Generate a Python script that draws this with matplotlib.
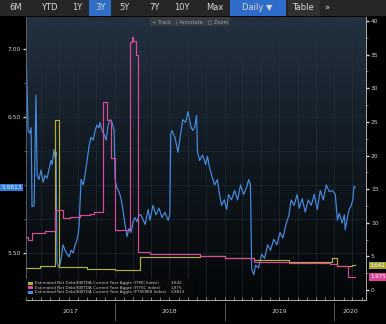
import numpy as np
import pandas as pd
import matplotlib
matplotlib.use("Agg")
import matplotlib.pyplot as plt
import matplotlib.dates as mdates
from matplotlib.colors import LinearSegmentedColormap
from matplotlib.patches import Rectangle
from matplotlib.transforms import blended_transform_factory

# FTSEMIB Index (left axis)
blue_dates = [
    "2017-03-12", "2017-03-19", "2017-03-25", "2017-03-29", "2017-04-01", "2017-04-08",
    "2017-04-14", "2017-04-18", "2017-04-24", "2017-05-01", "2017-05-08", "2017-05-14",
    "2017-05-21", "2017-05-28", "2017-06-03", "2017-06-07", "2017-06-13", "2017-06-17",
    "2017-06-20", "2017-06-23", "2017-06-30", "2017-07-07", "2017-07-13", "2017-07-20",
    "2017-07-27", "2017-08-02", "2017-08-09", "2017-08-16", "2017-08-22", "2017-08-29",
    "2017-09-04", "2017-09-08", "2017-09-11", "2017-09-18", "2017-09-24", "2017-10-01",
    "2017-10-08", "2017-10-14", "2017-10-21", "2017-10-28", "2017-11-03", "2017-11-10",
    "2017-11-13", "2017-11-20", "2017-11-27", "2017-12-03", "2017-12-10", "2017-12-17",
    "2017-12-23", "2017-12-30", "2018-01-02", "2018-01-08", "2018-01-15", "2018-01-22",
    "2018-01-28", "2018-02-04", "2018-02-11", "2018-02-17", "2018-02-24", "2018-03-03",
    "2018-03-09", "2018-03-16", "2018-03-23", "2018-03-29", "2018-04-12", "2018-04-22",
    "2018-04-28", "2018-05-08", "2018-05-18", "2018-05-28", "2018-06-07", "2018-06-17",
    "2018-06-27", "2018-07-03", "2018-07-06", "2018-07-10", "2018-07-20", "2018-07-30",
    "2018-08-05", "2018-08-15", "2018-08-25", "2018-09-01", "2018-09-11", "2018-09-17",
    "2018-09-24", "2018-09-30", "2018-10-03", "2018-10-10", "2018-10-20", "2018-10-30",
    "2018-11-05", "2018-11-12", "2018-11-19", "2018-11-29", "2018-12-08", "2018-12-15",
    "2018-12-22", "2018-12-31", "2019-01-08", "2019-01-14", "2019-01-24", "2019-02-03",
    "2019-02-13", "2019-02-23", "2019-03-05", "2019-03-15", "2019-03-22", "2019-03-28",
    "2019-04-01", "2019-04-08", "2019-04-14", "2019-04-24", "2019-05-04", "2019-05-14",
    "2019-05-24", "2019-06-03", "2019-06-13", "2019-06-24", "2019-07-04", "2019-07-14",
    "2019-07-24", "2019-08-03", "2019-08-10", "2019-08-20", "2019-08-30", "2019-09-06",
    "2019-09-16", "2019-09-26", "2019-10-06", "2019-10-16", "2019-10-26", "2019-11-05",
    "2019-11-15", "2019-11-25", "2019-12-05", "2019-12-15", "2019-12-25", "2020-01-04",
    "2020-01-11", "2020-01-17", "2020-01-27", "2020-02-03", "2020-02-06", "2020-02-13",
    "2020-02-19", "2020-02-26", "2020-03-02", "2020-03-06", "2020-03-10",
]
blue_vals = [
    7.01, 6.40, 6.38, 6.42, 5.84, 5.85,
    6.66, 6.07, 6.04, 6.11, 6.02, 6.07,
    6.05, 6.12, 6.18, 6.15, 6.26, 6.20,
    6.24, 5.43, 5.39, 5.46, 5.56, 5.52,
    5.49, 5.47, 5.52, 5.50, 5.56, 5.60,
    5.68, 5.89, 6.04, 6.00, 6.07, 6.18,
    6.29, 6.35, 6.33, 6.40, 6.44, 6.42,
    6.46, 6.40, 6.37, 6.33, 6.44, 6.48,
    6.46, 6.40, 6.04, 5.98, 5.95, 5.90,
    5.82, 5.71, 5.62, 5.68, 5.65, 5.73,
    5.76, 5.73, 5.78, 5.78, 5.71, 5.82,
    5.74, 5.85, 5.78, 5.83, 5.76, 5.80,
    5.74, 5.78, 6.37, 6.40, 6.35, 6.24,
    6.33, 6.48, 6.46, 6.54, 6.43, 6.40,
    6.43, 6.51, 6.24, 6.18, 6.22, 6.15,
    6.21, 6.13, 6.07, 6.00, 6.04, 5.93,
    5.85, 5.89, 5.82, 5.93, 5.89, 5.96,
    5.89, 6.00, 5.93, 5.98, 6.04, 6.00,
    5.38, 5.34, 5.41, 5.39, 5.49, 5.46,
    5.56, 5.52, 5.60, 5.56, 5.65, 5.61,
    5.71, 5.78, 5.89, 5.85, 5.93, 5.83,
    5.90, 5.80, 5.89, 5.85, 5.93, 5.82,
    5.96, 5.89, 6.00, 5.95, 5.96, 5.93,
    5.74, 5.79, 5.72, 5.78, 5.67, 5.76,
    5.82, 5.85, 5.89, 5.99, 5.9813,
]

# FITSC Index (right axis, step)
pink_dates = [
    "2017-03-12", "2017-03-17", "2017-04-01", "2017-05-14", "2017-06-17", "2017-07-13",
    "2017-08-05", "2017-09-08", "2017-10-10", "2017-10-24", "2017-11-23", "2017-12-06",
    "2017-12-19", "2018-01-02", "2018-02-19", "2018-02-26", "2018-03-02", "2018-03-12",
    "2018-03-18", "2018-04-27", "2018-07-19", "2018-10-10", "2019-01-01", "2019-04-08",
    "2019-08-03", "2019-12-17", "2020-01-11", "2020-02-16", "2020-03-10",
]
pink_vals = [
    7.9, 7.4, 8.5, 8.7, 11.9, 10.7,
    10.9, 11.1, 11.3, 11.6, 28.0, 25.3,
    19.6, 8.9, 36.9, 37.6, 37.1, 35.0,
    5.6, 5.4, 5.3, 5.0, 4.8, 4.2,
    4.0, 3.8, 3.5, 1.975, 1.975,
]

# ITMC Index (right axis, step)
yellow_dates = [
    "2017-03-12", "2017-04-28", "2017-06-17", "2017-06-30", "2017-09-30", "2018-01-02",
    "2018-03-25", "2018-10-10", "2019-01-01", "2019-04-08", "2019-08-03", "2019-12-25",
    "2020-01-08", "2020-03-01", "2020-03-10",
]
yellow_vals = [
    3.25, 3.55, 25.3, 3.38, 3.1, 3.0,
    4.9, 5.1, 4.8, 4.5, 4.2, 4.7,
    3.55, 3.642, 3.642,
]

left_ticks = [7.00, 6.50, 5.50]
left_minor = [6.75, 6.25, 6.00, 5.75]
right_ticks = [0, 5, 10, 15, 20, 25, 30, 35, 40]
years = [2017, 2018, 2019, 2020]
buttons = ["6M", "YTD", "1Y", "3Y", "5Y", "7Y", "10Y", "Max", "Daily \u25bc", "Table", "\u00bb"]
button_x = [16, 49, 77, 100, 125, 154, 182, 215, 257, 303, 327]
legend_names = [
    "Estimated Net Debt/EBITDA Current Year Aggte (ITMC Index)",
    "Estimated Net Debt/EBITDA Current Year Aggte (FITSC Index)",
    "Estimated Net Debt/EBITDA Current Year Aggte (FTSEMIB Index)",
]
legend_values = ["3.642", "1.975", "5.9813"]

BLUE = "#468ce0"
PINK = "#dc4a9a"
YELLOW = "#b8ae36"
colors = [YELLOW, PINK, BLUE]

start = pd.Timestamp("2017-03-12")
end = pd.Timestamp("2020-04-15")

W, H = 386, 324
fig = plt.figure(figsize=(W / 100, H / 100), dpi=100, facecolor="black")
pos = [26 / W, 24 / H, 340 / W, 283 / H]

# gradient background
bg = fig.add_axes(pos)
cmap = LinearSegmentedColormap.from_list("bb", ["#233140", "#111921", "#040608"])
bg.imshow(np.linspace(0, 1, 256).reshape(-1, 1), cmap=cmap, aspect="auto",
          extent=[0, 1, 0, 1])
bg.axis("off")

ax = fig.add_axes(pos)
ax.set_facecolor("none")
ax2 = ax.twinx()

bd = pd.to_datetime(blue_dates)
pd_ = pd.to_datetime(pink_dates)
yd = pd.to_datetime(yellow_dates)

ax2.plot(yd, yellow_vals, color=YELLOW, lw=0.85, drawstyle="steps-post")
ax2.plot(pd_, pink_vals, color=PINK, lw=0.85, drawstyle="steps-post")
ax.plot(bd, blue_vals, color=BLUE, lw=0.85)

ax.set_xlim(start, end)
ax.set_ylim(5.154, 7.235)
ax2.set_ylim(-1.49, 40.6)

# x axis
ax.xaxis.set_major_locator(mdates.MonthLocator(bymonth=[1, 3, 5, 7, 9, 11]))
ax.xaxis.set_minor_locator(mdates.MonthLocator())
ax.set_xticklabels([])
ax.tick_params(axis="x", which="both", direction="in", length=2, width=0.5,
               colors="#aaaaaa")
ax.grid(True, axis="x", which="major", color="#25313c", lw=0.4)

# left y axis
ax.set_yticks(left_ticks)
ax.set_yticklabels([f"{v:.2f}" for v in left_ticks])
ax.set_yticks(left_minor, minor=True)
ax.tick_params(axis="y", which="major", direction="out", length=2.5, width=1,
               colors="#d0d0d0", labelsize=4.3, pad=1)
ax.tick_params(axis="y", which="minor", direction="out", length=1.2, width=0.6,
               colors="#777777")
ax.grid(True, axis="y", which="both", color="#1f2a34", lw=0.4)

# right y axis
ax2.set_yticks(right_ticks)
ax2.set_yticklabels([str(v) for v in right_ticks])
ax2.set_yticks(np.arange(2.5, 40, 5), minor=True)
ax2.tick_params(axis="y", which="major", direction="out", length=2.5, width=1,
                colors="#d0d0d0", labelsize=4.3, pad=1)
ax2.tick_params(axis="y", which="minor", direction="out", length=1.2, width=0.6,
                colors="#777777")

for a in (ax, ax2):
    a.spines["top"].set_visible(False)
ax.spines["right"].set_visible(False)
ax2.spines["left"].set_visible(False)
ax2.spines["bottom"].set_visible(False)
ax.spines["left"].set_color("#5a6874")
ax.spines["left"].set_linewidth(0.6)
ax2.spines["right"].set_color("#c8c8c8")
ax2.spines["right"].set_linewidth(0.6)
ax.spines["bottom"].set_color("#c8c8c8")
ax.spines["bottom"].set_linewidth(0.6)

# year labels under the axis
tr = blended_transform_factory(ax.transData, ax.transAxes)
for y in years:
    a = max(start, pd.Timestamp(f"{y}-01-01"))
    b = min(end, pd.Timestamp(f"{y + 1}-01-01"))
    ax.text(a + (b - a) / 2, -0.04, str(y), transform=tr, ha="center", va="center",
            fontsize=4.5, color="#cfcfcf")
    if y > years[0]:
        ax.plot([a, a], [-0.012, -0.07], transform=tr, clip_on=False,
                color="#6a6a6a", lw=0.6)

# last value labels
trl = blended_transform_factory(ax.transAxes, ax.transData)
ax.text(-0.012, blue_vals[-1], f"{blue_vals[-1]:.4f}", transform=trl, ha="right",
        va="center", fontsize=4.2, color="#e8f0ff",
        bbox=dict(boxstyle="square,pad=0.25", fc="#2f7fd8", ec="none"), zorder=5)
trr = blended_transform_factory(ax2.transAxes, ax2.transData)
ax2.text(1.012, yellow_vals[-1], legend_values[0], transform=trr, ha="left",
         va="center", fontsize=4, color="white",
         bbox=dict(boxstyle="square,pad=0.25", fc="#a8a530", ec="none"), zorder=5)
ax2.text(1.012, pink_vals[-1], legend_values[1], transform=trr, ha="left",
         va="center", fontsize=4, color="white",
         bbox=dict(boxstyle="square,pad=0.25", fc="#e0449a", ec="none"), zorder=5)

# legend
fig.add_artist(Rectangle((25 / W, 1 - 297 / H), 168 / W, 18 / H,
                         transform=fig.transFigure, fc="#07090b", ec="none"))
for i, (name, val) in enumerate(zip(legend_names, legend_values)):
    yy = 1 - (283.3 + 4.5 * i) / H
    fig.add_artist(Rectangle((28 / W, yy - 1.6 / H), 5 / W, 3.2 / H,
                             transform=fig.transFigure, fc=colors[i], ec="none"))
    fig.text(35 / W, yy, name, fontsize=3, color="#c8c8c8", va="center")
    fig.text(171 / W, yy, val, fontsize=3, color="#c8c8c8", va="center")

# toolbar
tb = fig.add_axes([0, 1 - 16 / H, 1, 16 / H])
tb.set_xlim(0, W)
tb.set_ylim(0, 16)
tb.axis("off")
tb.add_patch(Rectangle((0, 0), W, 16, fc="#262626", ec="none"))
tb.add_patch(Rectangle((89, 0), 22, 16, fc="#2f6ec4", ec="none"))
tb.add_patch(Rectangle((230, 0), 56, 16, fc="#2e6ccc", ec="none"))
tb.add_patch(Rectangle((288, 0), 32, 16, fc="#303030", ec="none"))
for label, bx in zip(buttons, button_x):
    tb.text(bx, 8, label, ha="center", va="center", fontsize=6, color="#d8d8d8")

fig.text(190 / W, 1 - 21.7 / H, "+ Track   \u2215 Annotate   \u25cb Zoom", ha="center",
         va="center", fontsize=3.7, color="#9aa0a6",
         bbox=dict(boxstyle="square,pad=0.35", fc="#363c43", ec="none"))

fig.savefig("out.png", dpi=100, facecolor="black")
